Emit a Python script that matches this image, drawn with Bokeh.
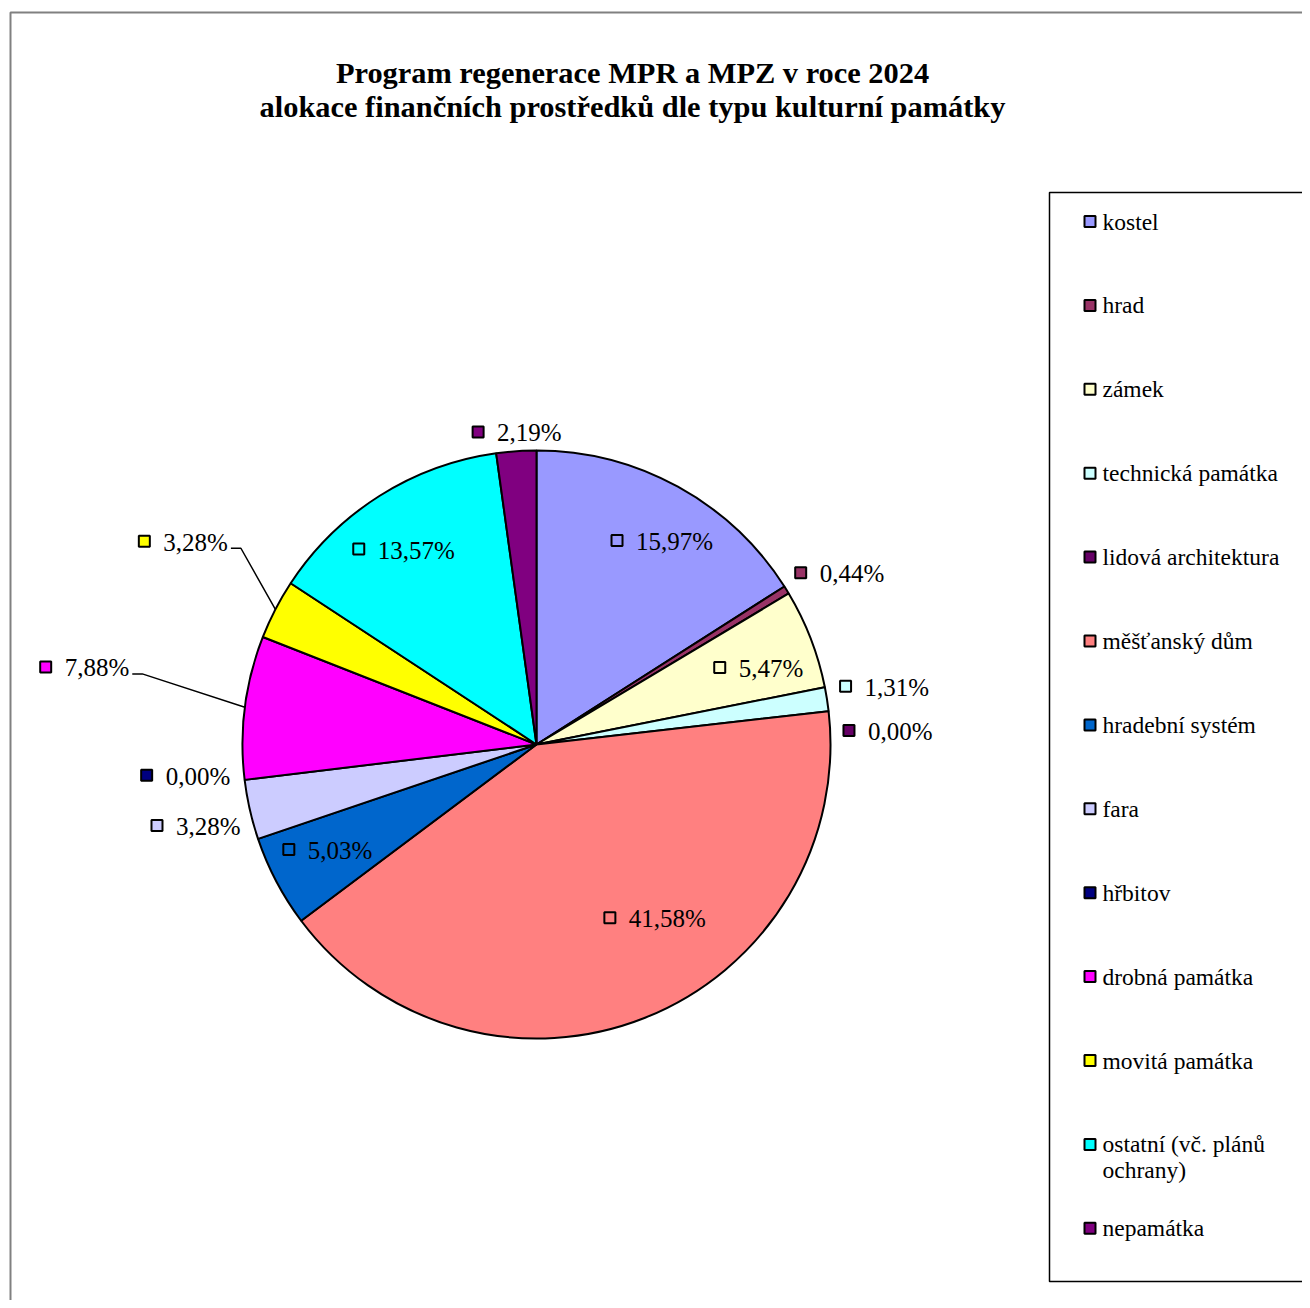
import math
import textwrap
from bokeh.plotting import figure
from bokeh.models import Range1d
from bokeh.core.properties import value
from bokeh.embed import file_html
from bokeh.resources import INLINE

# ---------------- data ----------------
categories = ["kostel", "hrad", "zámek", "technická památka", "lidová architektura",
              "měšťanský dům", "hradební systém", "fara", "hřbitov", "drobná památka",
              "movitá památka", "ostatní (vč. plánů ochrany)", "nepamátka"]
shares = [15.97, 0.44, 5.47, 1.31, 0.00, 41.58, 5.03, 3.28, 0.00, 7.88, 3.28, 13.57, 2.19]
colors = ["#9999FF", "#993366", "#FFFFCC", "#CCFFFF", "#660066", "#FF8080", "#0066CC",
          "#CCCCFF", "#000080", "#FF00FF", "#FFFF00", "#00FFFF", "#800080"]
title_lines = ["Program regenerace MPR a MPZ v roce 2024",
               "alokace finančních prostředků dle typu kulturní památky"]

# ---------------- label placement styles ----------------
label_r = [240, 350, 237, 355, 354, 212, 232, 348, 350, 456, 405, 234, 312]
label_nudge = [3.5, 2.5, 2.4, -0.4, 4.4, -13.1, 0.6, -0.8, 1.7, 2.4, 2.6, -1.5, 0.8]
label_leader = [False] * 9 + [True, True] + [False, False]

W, H = 1302, 1300
FONT = "Liberation Serif"

def py(img_y):
    return H - img_y

def px(img_x):
    return img_x

CX, CY, R = px(536), py(744), 294

p = figure(width=W, height=H, output_backend="svg", toolbar_location=None,
           x_range=Range1d(0, W), y_range=Range1d(0, H), min_border=0,
           background_fill_color="white", border_fill_color="white")
p.axis.visible = False
p.grid.visible = False
p.outline_line_color = None

# outer frame
p.quad(left=[px(10)], right=[W + 20], top=[py(12)], bottom=[-20],
       fill_color=None, line_color="#808080", line_width=2)

# title
for i, t in enumerate(title_lines):
    p.text(x=[px(632)], y=[py(72 + 34 * i)], text=[t], text_font=value(FONT),
           text_font_size="30.4px", text_font_style="bold", text_align="center",
           text_baseline="middle", text_color="black")

# ---------------- pie ----------------
total = sum(shares)
cum = 0.0
starts, ends, mids = [], [], []
for v in shares:
    a0 = cum / total
    cum += v
    a1 = cum / total
    starts.append(math.pi / 2 - 2 * math.pi * a0)
    ends.append(math.pi / 2 - 2 * math.pi * a1)
    mids.append((a0 + a1) / 2 * 360.0)

ws = [i for i, v in enumerate(shares) if v > 0]
p.wedge(x=CX, y=CY, radius=R,
        start_angle=[starts[i] for i in ws], end_angle=[ends[i] for i in ws],
        direction="clock", fill_color=[colors[i] for i in ws],
        line_color="black", line_width=2)

# ---------------- data labels ----------------
cw = {"0": .5, "1": .5, "2": .5, "3": .5, "4": .5, "5": .5, "6": .5, "7": .5,
      "8": .5, "9": .5, ",": .25, "%": .833}
LFS = 25

def fmt(v):
    return f"{v:.2f}".replace(".", ",") + "%"

mk_x, mk_y, mk_c, tx_x, tx_y, tx_t = [], [], [], [], [], []
lead_xs, lead_ys = [], []
for i, v in enumerate(shares):
    t = fmt(v)
    tw = sum(cw.get(ch, .5) for ch in t) * LFS
    gw = 7 + 19 + tw
    th = math.radians(mids[i] + label_nudge[i])
    gx = CX + label_r[i] * math.sin(th)
    gy = CY + label_r[i] * math.cos(th)
    left = gx - gw / 2 - 3
    mk_x.append(left + 7)
    mk_y.append(gy + 1)
    mk_c.append(colors[i])
    tx_x.append(left + 26)
    tx_y.append(gy)
    tx_t.append(t)
    if label_leader[i]:
        em = math.radians(mids[i])
        ex, ey = CX + R * math.sin(em), CY + R * math.cos(em)
        rx = left + gw
        lead_xs.append([ex, rx + 13, rx + 3])
        lead_ys.append([ey, gy - 6, gy - 6])

if lead_xs:
    p.multi_line(xs=lead_xs, ys=lead_ys, line_color="black", line_width=1.5)
p.scatter(x=mk_x, y=mk_y, marker="square", size=11, fill_color=mk_c,
          line_color="black", line_width=2)
p.text(x=tx_x, y=tx_y, text=tx_t, text_font=value(FONT), text_font_size=f"{LFS}px",
       text_align="left", text_baseline="middle", text_color="black")

# ---------------- legend ----------------
p.quad(left=[px(1049)], right=[W + 20], top=[py(192)], bottom=[py(1281)],
       fill_color="white", line_color="black", line_width=1.5)
lg_mx, lg_my, lg_c, lg_tx, lg_ty, lg_t = [], [], [], [], [], []
for i, name in enumerate(categories):
    yc = py(221 + 83.9 * i)
    lg_mx.append(px(1089.5))
    lg_my.append(yc)
    lg_c.append(colors[i])
    for j, line in enumerate(textwrap.wrap(name, width=20)):
        lg_tx.append(px(1102))
        lg_ty.append(yc - 26 * j)
        lg_t.append(line)
p.scatter(x=lg_mx, y=lg_my, marker="square", size=11, fill_color=lg_c,
          line_color="black", line_width=2)
p.text(x=lg_tx, y=lg_ty, text=lg_t, text_font=value(FONT), text_font_size="23.5px",
       text_align="left", text_baseline="middle", text_color="black")

open("out.html", "w").write(file_html(p, INLINE))
